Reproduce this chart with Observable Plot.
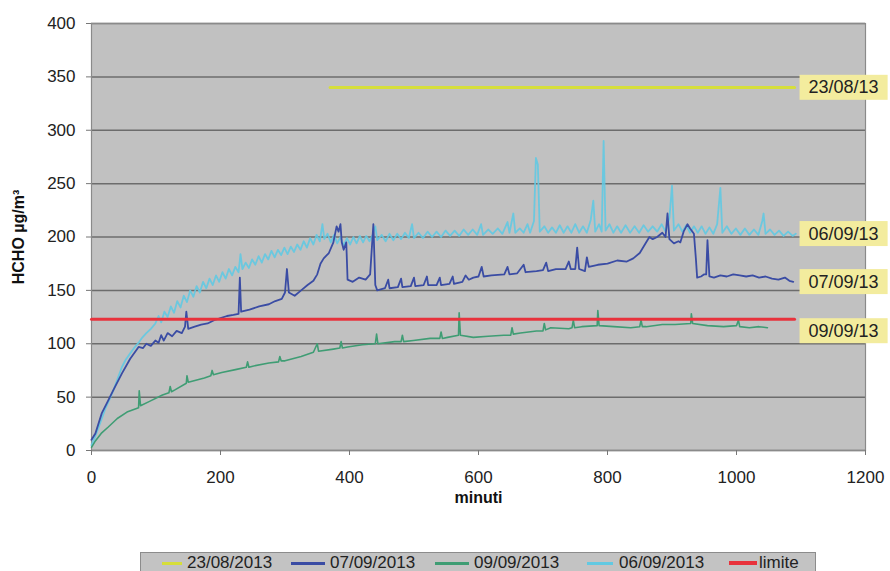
<!DOCTYPE html>
<html>
<head>
<meta charset="utf-8">
<script src="https://cdn.jsdelivr.net/npm/d3@7"></script>
<script src="https://cdn.jsdelivr.net/npm/@observablehq/plot@0.6"></script>
<style>
  html, body { margin: 0; padding: 0; background: #fff; }
  body { width: 890px; height: 571px; position: relative; overflow: hidden; font-family: "Liberation Sans", Arial, sans-serif; }
  #legend { position: absolute; left: 140px; top: 552px; width: 676px; height: 28px; background: #c3c3c3; border: 1px solid #8c8c8c; box-sizing: border-box; }
  #legend .item { position: absolute; top: 0; height: 20px; display: flex; align-items: center; font-size: 17px; color: #222; white-space: nowrap; }
  #legend .sw { display: inline-block; width: 34px; height: 3px; margin-right: 5px; }
</style>
</head>
<body>
<div id="chart"></div>
<div id="legend"></div>
<script>
// ---- data (minutes, µg/m³) ----
const xTicks = [0, 200, 400, 600, 800, 1000, 1200];
const yTicks = [0, 50, 100, 150, 200, 250, 300, 350, 400];

const s2308 = [[370, 340], [1090, 340]];
const limite = [[0, 123], [1090, 123]];

const s0709 = [[0,10],[6,16],[16,35],[26,47],[35,58],[47,72],[60,86],[73,97],[80,96],[85,100],[92,98],[99,103],[104,101],[108,108],[112,103],[118,110],[125,107],[132,112],[140,110],[145,116],[147,130],[150,114],[160,116],[170,118],[180,119],[190,122],[200,124],[210,126],[220,127],[228,128],[230,162],[232,130],[245,132],[260,135],[275,137],[285,140],[295,142],[300,148],[303,170],[306,148],[315,145],[325,150],[335,155],[344,159],[350,165],[355,175],[360,180],[368,185],[375,195],[380,210],[383,205],[386,212],[388,195],[391,188],[395,195],[397,160],[405,158],[415,162],[425,160],[432,165],[437,212],[440,155],[443,150],[455,152],[460,160],[462,152],[475,153],[480,161],[482,153],[495,154],[500,162],[502,154],[515,155],[520,163],[522,155],[535,155],[540,162],[542,155],[555,156],[560,163],[562,156],[575,158],[580,164],[585,160],[592,162],[600,163],[605,172],[608,163],[620,164],[640,165],[645,172],[648,165],[660,166],[670,174],[673,167],[690,168],[700,169],[705,176],[708,168],[720,170],[735,170],[740,177],[743,170],[750,170],[753,190],[756,170],[765,168],[768,181],[771,172],[785,174],[800,175],[815,178],[830,177],[840,180],[850,185],[860,195],[865,200],[870,198],[877,200],[885,204],[890,200],[893,222],[896,198],[903,194],[910,196],[913,195],[918,205],[924,212],[928,208],[934,203],[937,180],[939,162],[945,163],[950,165],[953,165],[955,197],[958,163],[965,162],[975,164],[985,163],[995,165],[1005,164],[1015,163],[1025,164],[1035,162],[1045,163],[1055,161],[1065,160],[1075,162],[1082,159],[1088,158]];

const s0909 = [[0,3],[6,9],[15,16],[26,22],[40,30],[55,36],[73,40],[74,56],[76,42],[90,46],[110,52],[120,54],[122,60],[124,55],[130,57],[147,63],[148,70],[150,64],[175,68],[185,70],[187,75],[189,71],[202,73],[225,76],[240,78],[242,83],[244,78],[250,79],[275,82],[290,83],[292,88],[294,84],[300,84],[325,88],[344,92],[350,100],[352,93],[375,95],[385,96],[387,102],[389,96],[397,97],[420,99],[440,100],[442,109],[444,100],[470,102],[480,102],[482,108],[484,102],[499,103],[525,105],[540,105],[542,111],[544,105],[552,106],[569,108],[570,129],[572,108],[592,106],[615,107],[639,108],[650,108],[652,115],[654,109],[665,110],[690,112],[700,112],[702,119],[704,113],[712,115],[740,114],[745,115],[747,122],[749,115],[760,116],[784,117],[785,131],[787,117],[810,116],[836,115],[850,116],[852,122],[854,116],[860,116],[885,118],[905,118],[929,119],[930,128],[932,119],[955,117],[980,116],[1000,117],[1003,122],[1005,116],[1020,115],[1035,116],[1048,115]];

const s0609 = [[0,5],[5,12],[10,20],[16,30],[22,40],[28,48],[35,58],[41,68],[47,78],[53,85],[60,91],[66,96],[73,101],[79,106],[85,110],[92,114],[99,119],[104,126],[108,120],[113,130],[118,125],[123,135],[128,129],[133,140],[138,134],[143,145],[148,139],[153,150],[158,144],[163,154],[168,148],[173,158],[178,152],[183,161],[188,155],[193,164],[198,158],[203,167],[208,161],[213,170],[218,164],[223,172],[228,167],[231,184],[234,170],[239,176],[244,171],[249,179],[254,174],[259,182],[264,176],[269,184],[274,179],[279,187],[284,181],[289,188],[294,183],[299,190],[304,184],[309,191],[314,186],[319,193],[324,188],[329,196],[334,190],[339,199],[344,193],[349,202],[354,196],[358,212],[361,198],[366,203],[371,195],[376,202],[381,194],[386,200],[391,192],[396,199],[401,193],[406,200],[411,194],[416,201],[421,195],[426,201],[431,196],[436,202],[440,210],[443,197],[450,202],[456,196],[462,203],[468,197],[474,203],[480,198],[486,204],[492,199],[497,212],[500,199],[507,204],[514,199],[521,205],[528,200],[535,205],[542,200],[549,206],[556,201],[563,206],[570,201],[577,207],[584,202],[591,207],[598,202],[604,212],[607,202],[615,207],[622,203],[630,208],[637,203],[645,214],[648,204],[654,222],[657,204],[664,208],[670,204],[676,212],[680,204],[686,215],[689,274],[692,268],[695,205],[702,210],[708,204],[714,209],[720,204],[726,211],[732,204],[738,210],[744,204],[750,212],[756,204],[762,210],[768,204],[774,216],[778,234],[781,205],[787,212],[791,205],[794,290],[797,206],[803,212],[809,204],[815,210],[821,204],[828,211],[835,204],[842,210],[849,204],[856,211],[863,205],[870,210],[877,205],[884,212],[890,205],[896,218],[900,248],[903,206],[910,212],[916,205],[922,211],[928,204],[934,210],[940,204],[946,210],[952,203],[958,209],[964,203],[970,212],[975,246],[978,204],[985,210],[992,203],[999,208],[1006,202],[1013,208],[1020,202],[1027,207],[1034,202],[1040,215],[1042,222],[1045,203],[1052,207],[1059,202],[1066,206],[1073,201],[1080,205],[1087,201],[1092,203]];

const legendNames = ["23/08/2013", "07/09/2013", "09/09/2013", "06/09/2013", "limite"];
const labelNames = ["23/08/13", "06/09/13", "07/09/13", "09/09/13"];
const labelEndX = 1090;

// ---- styles ----
const colors = {
  "23/08/2013": "#d6de3a",
  "07/09/2013": "#3a4ca4",
  "09/09/2013": "#3f9d74",
  "06/09/2013": "#62c9e2",
  "limite": "#e8323c"
};
const toRows = (arr) => arr.map(([m, v]) => ({m, v}));

const labels = [
  {t: labelNames[0], v: s2308[s2308.length - 1][1]},
  {t: labelNames[1], v: s0609[s0609.length - 1][1]},
  {t: labelNames[2], v: s0709[s0709.length - 1][1]},
  {t: labelNames[3], v: s0909[s0909.length - 1][1] - 3}
].map(d => ({...d, m: labelEndX}));

const chart = Plot.plot({
  width: 890,
  height: 548,
  marginLeft: 91,
  marginRight: 25,
  marginTop: 23,
  marginBottom: 98,
  style: {fontFamily: "'Liberation Sans', Arial, sans-serif", fontSize: "17px", color: "#222", background: "transparent", overflow: "visible"},
  x: {domain: [0, 1200]},
  y: {domain: [0, 400]},
  marks: [
    Plot.frame({fill: "#c1c1c1"}),
    Plot.ruleY(yTicks, {stroke: "#6c6c6c", strokeWidth: 1.5}),
    Plot.frame({stroke: "#8a8a8a", strokeWidth: 1.2}),
    Plot.line(toRows(s2308), {x: "m", y: "v", stroke: colors["23/08/2013"], strokeWidth: 3}),
    Plot.line(toRows(s0609), {x: "m", y: "v", stroke: colors["06/09/2013"], strokeWidth: 1.8, strokeOpacity: 0.9}),
    Plot.line(toRows(s0909), {x: "m", y: "v", stroke: colors["09/09/2013"], strokeWidth: 1.6}),
    Plot.line(toRows(s0709), {x: "m", y: "v", stroke: colors["07/09/2013"], strokeWidth: 1.8}),
    Plot.line(toRows(limite), {x: "m", y: "v", stroke: colors["limite"], strokeWidth: 3}),
    Plot.axisX(xTicks, {tickSize: 5, tickPadding: 15, label: null, stroke: "#777", tickFormat: d3.format("d")}),
    Plot.axisY(yTicks, {tickSize: 5, tickPadding: 11, label: null, stroke: "#777", tickFormat: d3.format("d")}),
    Plot.text(["minuti"], {frameAnchor: "bottom", lineAnchor: "middle", textAnchor: "middle", dy: 47, fontWeight: "bold", fontSize: 16, fill: "#111"}),
    Plot.text(["HCHO µg/m³"], {frameAnchor: "left", textAnchor: "middle", lineAnchor: "middle", dx: -73, rotate: -90, fontWeight: "bold", fontSize: 16, fill: "#111"}),
    Plot.text(labels, {x: "m", y: "v", text: "t", textAnchor: "start", lineAnchor: "middle", dx: 14, fontSize: 18, fill: "#222"})
  ]
});
document.getElementById("chart").appendChild(chart);

// yellow boxes behind the data labels
chart.querySelectorAll("text").forEach(t => {
  if (!labelNames.includes(t.textContent)) return;
  const b = t.getBBox();
  const r = document.createElementNS("http://www.w3.org/2000/svg", "rect");
  const h = 25, cy = b.y + b.height / 2;
  r.setAttribute("x", b.x - 9);
  r.setAttribute("y", cy - h / 2);
  r.setAttribute("width", b.width + 18);
  r.setAttribute("height", h);
  r.setAttribute("fill", "#f3ec9e");
  if (t.getAttribute("transform")) r.setAttribute("transform", t.getAttribute("transform"));
  t.parentNode.insertBefore(r, t);
});

// legend
const legendLefts = [21, 150, 294, 446, 588];
const legend = document.getElementById("legend");
legendNames.forEach((name, i) => {
  const it = document.createElement("div");
  it.className = "item";
  it.style.left = legendLefts[i] + "px";
  const sw = document.createElement("span");
  sw.className = "sw";
  sw.style.background = colors[name];
  if (name === "23/08/2013") { sw.style.width = "20px"; }
  if (name === "06/09/2013") { sw.style.width = "26px"; sw.style.marginRight = "6px"; }
  if (name === "limite") { sw.style.width = "28px"; sw.style.height = "4px"; sw.style.marginRight = "2px"; }
  it.appendChild(sw);
  const tx = document.createElement("span");
  tx.textContent = name;
  it.appendChild(tx);
  legend.appendChild(it);
});
</script>
</body>
</html>
